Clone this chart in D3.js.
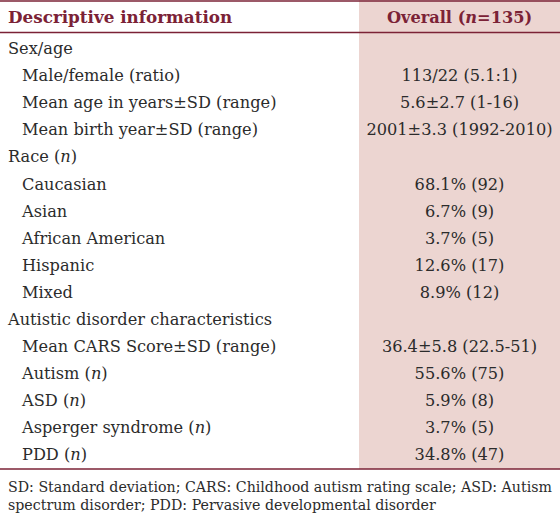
<!DOCTYPE html>
<html><head><meta charset="utf-8">
<script src="https://cdn.jsdelivr.net/npm/d3@7"></script>
<style>body{margin:0;background:#fff}svg{display:block}</style>
</head><body>
<script>
const headers = ["Descriptive information", "Overall (*n*=135)"];
const labels = ["Sex/age","Male/female (ratio)","Mean age in years±SD (range)","Mean birth year±SD (range)","Race (*n*)","Caucasian","Asian","African American","Hispanic","Mixed","Autistic disorder characteristics","Mean CARS Score±SD (range)","Autism (*n*)","ASD (*n*)","Asperger syndrome (*n*)","PDD (*n*)"];
const levels = [0,1,1,1,0,1,1,1,1,1,0,1,1,1,1,1];
const values = ["","113/22 (5.1:1)","5.6±2.7 (1-16)","2001±3.3 (1992-2010)","","68.1% (92)","6.7% (9)","3.7% (5)","12.6% (17)","8.9% (12)","","36.4±5.8 (22.5-51)","55.6% (75)","5.9% (8)","3.7% (5)","34.8% (47)"];
const footnote = ["SD: Standard deviation; CARS: Childhood autism rating scale; ASD: Autism","spectrum disorder; PDD: Pervasive developmental disorder"];

const W = 560, H = 513;
const maroon = "#7b2236", pink = "#ecd5d1", ink = "#2b2b2b";
const font = "'DejaVu Serif', serif";
const svg = d3.select("body").append("svg").attr("width", W).attr("height", H);

const colX = d3.scaleOrdinal().domain(["label","value"]).range([0, 359]);
const y = d3.scaleBand().domain(d3.range(labels.length)).range([34, 469]).paddingOuter(0.04);

svg.append("rect").attr("x", colX("value")).attr("y", 0).attr("width", W - colX("value")).attr("height", 469).attr("fill", pink);

function rich(sel, str) {
  str.split("*").forEach((part, i) => {
    if (!part) return;
    sel.append("tspan").text(part).attr("font-style", i % 2 ? "italic" : null);
  });
}

// header
const hy = 17;
rich(svg.append("text").attr("x", 8).attr("y", hy).attr("dy", "0.35em").attr("font-family", font).attr("font-weight", "bold").attr("font-size", 16.8).attr("fill", maroon), headers[0]);
rich(svg.append("text").attr("x", (colX("value") + W) / 2).attr("y", hy).attr("dy", "0.35em").attr("text-anchor", "middle").attr("font-family", font).attr("font-weight", "bold").attr("font-size", 16.2).attr("fill", maroon), headers[1]);

svg.append("line").attr("x1", 0).attr("x2", W).attr("y1", 1).attr("y2", 1).attr("stroke", maroon).attr("stroke-width", 1.5);
svg.append("line").attr("x1", 0).attr("x2", W).attr("y1", 32.5).attr("y2", 32.5).attr("stroke", maroon).attr("stroke-width", 1.5);
svg.append("line").attr("x1", 0).attr("x2", W).attr("y1", 469).attr("y2", 469).attr("stroke", maroon).attr("stroke-width", 1.5);

const rows = svg.append("g").selectAll("g").data(labels).join("g")
  .attr("transform", (d, i) => `translate(0,${y(i) + y.bandwidth() / 2})`);
rows.each(function(d, i) {
  const g = d3.select(this);
  rich(g.append("text").attr("x", levels[i] ? 22 : 8).attr("dy", "0.35em").attr("font-family", font).attr("font-size", 16.2).attr("fill", ink), d);
  if (values[i]) rich(g.append("text").attr("x", (colX("value") + W) / 2).attr("dy", "0.35em").attr("text-anchor", "middle").attr("font-family", font).attr("font-size", 16.2).attr("fill", ink), values[i]);
});

footnote.forEach((t, i) => {
  svg.append("text").attr("x", 8).attr("y", 492 + i * 18).attr("font-family", font).attr("font-size", 14.2).attr("fill", ink).text(t);
});
</script>
</body></html>
